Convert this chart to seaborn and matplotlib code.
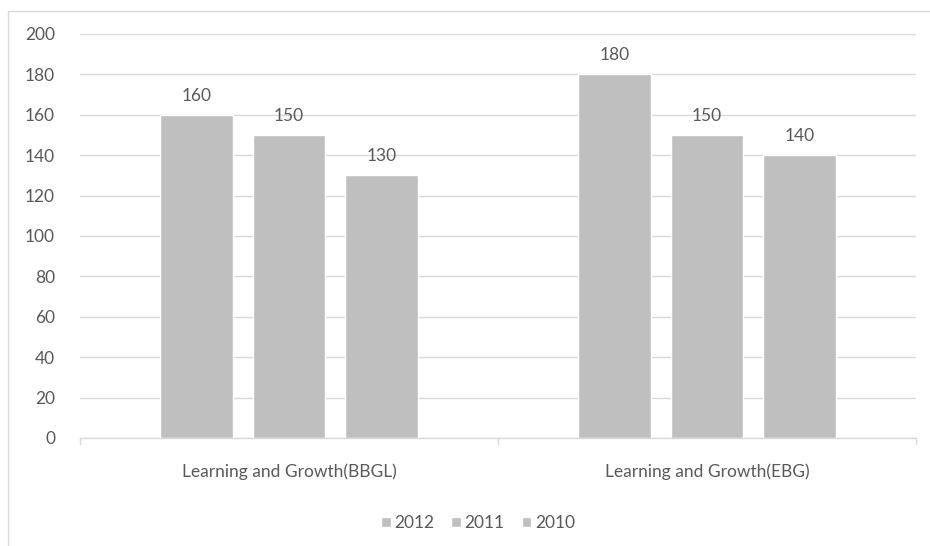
import matplotlib
matplotlib.use("Agg")
import matplotlib.pyplot as plt
import matplotlib.lines as mlines
import seaborn as sns
import pandas as pd

categories = ["Learning and Growth(BBGL)", "Learning and Growth(EBG)"]
years = ["2012", "2011", "2010"]
values_2012 = [160, 180]
values_2011 = [150, 150]
values_2010 = [130, 140]
y_ticks = [0, 20, 40, 60, 80, 100, 120, 140, 160, 180, 200]

rows = []
for yr, vals in zip(years, [values_2012, values_2011, values_2010]):
    for c, v in zip(categories, vals):
        rows.append({"category": c, "year": yr, "value": v})
df = pd.DataFrame(rows)

sns.set_theme(style="white")
plt.rcParams['font.family'] = ['Lato', 'DejaVu Sans']

text_color = "#595959"
grid_color = "#d9d9d9"
bar_color = "#bfbfbf"
fs = 12.5

fig = plt.figure(figsize=(9.3, 5.46), dpi=100)
ax = fig.add_axes([80/930, 1-438/546, 836/930, 404/546])

sns.barplot(data=df, x="category", y="value", hue="year", order=categories,
            hue_order=years, palette=[bar_color]*3, width=0.664, gap=0.22,
            saturation=1, ax=ax, legend=True, zorder=3)

for cont in ax.containers:
    ax.bar_label(cont, padding=8, color=text_color, fontsize=fs)

ax.set_xlim(-0.5, 1.5)
ax.set_ylim(0, 200)
ax.set_yticks(y_ticks)
ax.set_yticklabels([str(t) for t in y_ticks], color=text_color, fontsize=fs)
ax.yaxis.grid(True, color=grid_color, linewidth=1, zorder=0)
ax.set_axisbelow(True)
ax.tick_params(axis='y', length=0, pad=18)
ax.tick_params(axis='x', length=0, pad=18, labelsize=fs, labelcolor=text_color)
ax.set_xlabel("")
ax.set_ylabel("")
for s in ["left", "right", "top"]:
    ax.spines[s].set_visible(False)
ax.spines["bottom"].set_color(grid_color)
ax.spines["bottom"].set_linewidth(1)

# category separator ticks
for xv in [-0.5, 0.5, 1.5]:
    ax.plot([xv, xv], [0, -0.015], transform=ax.get_xaxis_transform(),
            color=grid_color, linewidth=1, clip_on=False)

leg = ax.legend(loc="center", bbox_to_anchor=((478-80)/836, (1-523/546 - (1-438/546)) / (404/546)),
                ncol=3, frameon=False, fontsize=fs, handlelength=0.55, handleheight=0.55,
                handletextpad=0.2, columnspacing=1.0)
for t in leg.get_texts():
    t.set_color(text_color)

# chart border
fig.add_artist(mlines.Line2D([8/930, 8/930], [0, 1-11/546], transform=fig.transFigure,
                             color=grid_color, linewidth=1))
fig.add_artist(mlines.Line2D([8/930, 1], [1-11/546, 1-11/546], transform=fig.transFigure,
                             color=grid_color, linewidth=1))

fig.savefig("out.png", dpi=100)
